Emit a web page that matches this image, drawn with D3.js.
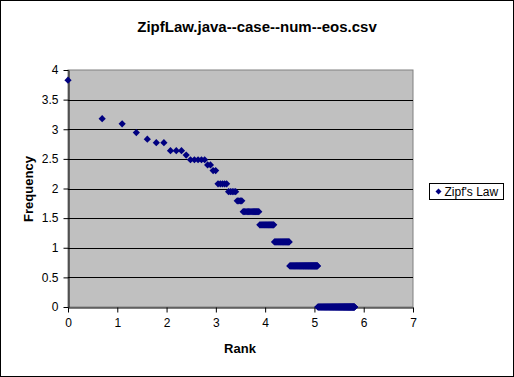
<!DOCTYPE html>
<html>
<head>
<meta charset="utf-8">
<script src="https://cdn.jsdelivr.net/npm/d3@7"></script>
<style>
  body { margin: 0; background: #fff; }
  svg text { font-family: "Liberation Sans", Arial, sans-serif; }
</style>
</head>
<body>
<div id="chart"></div>
<script>
// word frequency levels and how many words share each level (ranks follow in order)
var freqs = [46, 24, 22, 19, 17, 16, 14, 13, 12, 11, 10, 8, 7, 6, 5, 4, 3, 2, 1];
var wordsPerFreq = [1, 1, 1, 1, 1, 2, 3, 1, 5, 2, 2, 5, 5, 4, 14, 17, 24, 69, 177];
var xTicks = [0, 1, 2, 3, 4, 5, 6, 7];
var yTicks = [0, 0.5, 1, 1.5, 2, 2.5, 3, 3.5, 4];

var width = 514, height = 377;
var plot = {left: 68, top: 70, right: 413, bottom: 307};

// build (ln rank, ln freq) points
var points = [];
var rank = 1;
freqs.forEach(function(f, i) {
    for (var k = 0; k < wordsPerFreq[i]; k++) {
        points.push({x: Math.log(rank), y: Math.log(f)});
        rank++;
    }
});

var svg = d3.select("#chart")
    .append("svg")
    .attr("width", width)
    .attr("height", height);

svg.append("rect")
    .attr("x", 0.5).attr("y", 0.5)
    .attr("width", width - 1).attr("height", height - 1)
    .attr("fill", "#fff")
    .attr("stroke", "#000");

var x = d3.scaleLinear().domain([0, 7]).range([plot.left, plot.right]);
var y = d3.scaleLinear().domain([0, 4]).range([plot.bottom, plot.top]);

svg.append("rect")
    .attr("x", plot.left).attr("y", plot.top)
    .attr("width", plot.right - plot.left)
    .attr("height", plot.bottom - plot.top)
    .attr("fill", "#c0c0c0")
    .attr("stroke", "#808080");

// gridlines
svg.append("g")
    .selectAll("line")
    .data(yTicks.filter(d => d > 0 && d < 4))
    .join("line")
    .attr("x1", plot.left).attr("x2", plot.right)
    .attr("y1", d => Math.round(y(d)) + 0.5)
    .attr("y2", d => Math.round(y(d)) + 0.5)
    .attr("stroke", "#000");

var xAxis = svg.append("g")
    .attr("transform", "translate(0," + (plot.bottom + 0.5) + ")")
    .call(d3.axisBottom(x).tickValues(xTicks).tickSize(5).tickSizeOuter(0).tickFormat(d3.format("d")));

var yAxis = svg.append("g")
    .attr("transform", "translate(" + (plot.left + 0.5) + ",0)")
    .call(d3.axisLeft(y).tickValues(yTicks).tickSize(5).tickSizeOuter(0).tickFormat(d => d));

[xAxis, yAxis].forEach(function(a) {
    a.select(".domain").attr("stroke", "#000");
    a.selectAll(".tick line").attr("stroke", "#000");
    a.selectAll(".tick text")
        .attr("fill", "#000")
        .style("font-size", "12px")
        .style("font-family", "Liberation Sans, Arial, sans-serif");
});
xAxis.selectAll(".tick text").attr("dy", "0.9em").attr("y", 9);
yAxis.selectAll(".tick text").attr("x", -10);

// markers: square turned 45 degrees, like the Excel diamond
var diamond = d3.symbol().type(d3.symbolSquare).size(26);
svg.append("g")
    .selectAll("path")
    .data(points)
    .join("path")
    .attr("d", diamond)
    .attr("transform", d => "translate(" + x(d.x) + "," + y(d.y) + ") rotate(45)")
    .attr("fill", "#000080");

// title and axis labels
svg.append("text")
    .attr("x", 257).attr("y", 32)
    .attr("text-anchor", "middle")
    .style("font-size", "15px")
    .style("font-weight", "bold")
    .text("ZipfLaw.java--case--num--eos.csv");

svg.append("text")
    .attr("x", 240).attr("y", 353)
    .attr("text-anchor", "middle")
    .style("font-size", "13px")
    .style("font-weight", "bold")
    .text("Rank");

svg.append("text")
    .attr("transform", "translate(33,189) rotate(-90)")
    .attr("text-anchor", "middle")
    .style("font-size", "13px")
    .style("font-weight", "bold")
    .text("Frequency");

// legend
var legend = svg.append("g").attr("transform", "translate(429.5,183.5)");
legend.append("rect")
    .attr("width", 74).attr("height", 16)
    .attr("fill", "#fff")
    .attr("stroke", "#000");
legend.append("path")
    .attr("d", d3.symbol().type(d3.symbolSquare).size(18))
    .attr("transform", "translate(9,8) rotate(45)")
    .attr("fill", "#000080");
legend.append("text")
    .attr("x", 15).attr("y", 12.5)
    .style("font-size", "12px")
    .text("Zipf's Law");
</script>
</body>
</html>
